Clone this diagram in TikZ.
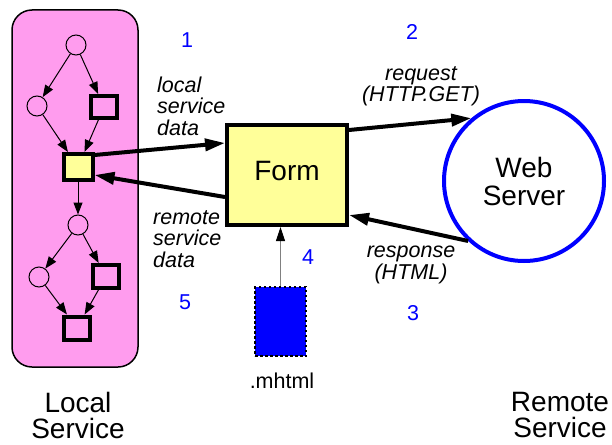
\documentclass[tikz,border=0pt]{standalone}
\usepackage{fontspec}
\setmainfont{Liberation Sans}
\usetikzlibrary{arrows.meta}
\definecolor{pinkbg}{HTML}{FF9CEE}
\definecolor{formyel}{HTML}{FFFF99}
\begin{document}
\begin{tikzpicture}[x=1pt,y=-1pt,
  place/.style={circle,draw,line width=1pt,minimum size=20pt,inner sep=0pt},
  trans/.style={rectangle,draw,line width=4pt,minimum width=26pt,minimum height=22pt,inner sep=0pt},
  thinarr/.style={line width=1pt,-{Triangle[length=12pt,width=9pt]}},
  thickarr/.style={line width=4pt,-{Triangle[length=20pt,width=12pt]}},
  lbl/.style={font=\fontsize{21.5}{21.5}\selectfont\itshape,inner sep=0pt},
  big/.style={font=\fontsize{28}{26}\selectfont,align=center,inner sep=0pt},
  num/.style={font=\fontsize{21.5}{21.5}\selectfont,text=blue,inner sep=0pt}]
\useasboundingbox (0,0) rectangle (612,444);
% local service container
\draw[fill=pinkbg,line width=1.5pt,rounded corners=20pt] (12,10) rectangle (138,367);
% inner graph
\node[place] (c1) at (76,45) {};
\node[place] (c2) at (37,106) {};
\node[trans] (s1) at (104,107) {};
\node[trans,fill=formyel,minimum width=29pt,minimum height=26pt] (ys) at (78,167) {};
\node[place] (c3) at (78,225) {};
\node[place] (c4) at (39,277) {};
\node[trans,minimum height=23pt] (s2) at (106,276.5) {};
\node[trans,minimum height=23pt] (s3) at (77,328) {};
\draw[thinarr] (c1) -- (c2);
\draw[thinarr] (c1) -- (s1);
\draw[thinarr] (c2) -- (ys);
\draw[thinarr] (s1) -- (ys);
\draw[thinarr] (ys) -- (c3);
\draw[thinarr] (c3) -- (c4);
\draw[thinarr] (c3) -- (s2);
\draw[thinarr] (c4) -- (s3);
\draw[thinarr] (s2) -- (s3);
% form
\node[draw,line width=4pt,fill=formyel,minimum width=120pt,minimum height=100pt,inner sep=0pt,
      text depth=8pt,font=\fontsize{28}{28}\selectfont] (form) at (287,175) {Form};
% web server
\node[circle,draw=blue,line width=4pt,minimum size=160pt,inner sep=0pt,
      font=\fontsize{28}{28}\selectfont,align=center] (ws) at (524,181) {Web\\Server};
% mhtml
\node[draw,fill=blue,line width=2.5pt,dash pattern=on 2.5pt off 2.5pt,minimum width=51pt,minimum height=69pt,inner sep=0pt] (mh) at (280.5,321.5) {};
\node[font=\fontsize{21.5}{21.5}\selectfont,inner sep=0pt,anchor=base] (mhl) at (282,388) {.mhtml};
% connectors
\draw[thickarr] ([yshift=12pt]ys.east) -- ([yshift=32pt]form.west);
\draw[thickarr] ([yshift=-22pt]form.west) -- ([yshift=-8pt]ys.east);
\draw[thickarr] ([yshift=45pt]form.east) -- (ws.130.6);
\draw[thickarr] (ws.227) -- ([yshift=-40pt]form.east);
\draw[line width=1pt,draw=gray,-{Triangle[length=14pt,width=9pt,color=black]}] (mh.north) -- (mh.north |- form.south);
% labels
\node[lbl,anchor=north west,align=left] (l1) at (157,76.6) {local\\service\\data};
\node[lbl,anchor=north west,align=left] (l2) at (153,210) {remote\\service\\data};
\node[lbl,anchor=north,align=center] (l3) at (421,66) {request\\(HTTP.GET)};
\node[lbl,anchor=north,align=center] (l4) at (411,246) {response\\(HTML)};
% numbers
\node[num] (n1) at (187,40) {1};
\node[num] (n2) at (412,32) {2};
\node[num] (n3) at (413,313) {3};
\node[num] (n4) at (308,257) {4};
\node[num] (n5) at (185,302) {5};
% titles
\node[big,anchor=north] (lt) at (78,392) {Local\\Service};
\node[big,anchor=north] (rt) at (560,392) {Remote\\Service};
\end{tikzpicture}
\end{document}
